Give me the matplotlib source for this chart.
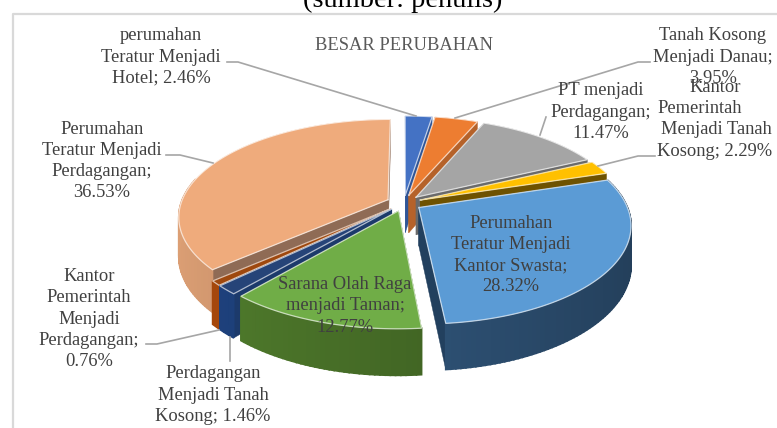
import numpy as np
import matplotlib
matplotlib.use("Agg")
import matplotlib.pyplot as plt
from matplotlib.colors import to_rgb

plt.rcParams['font.family'] = ['Liberation Serif', 'DejaVu Serif']

# order: clockwise from 12 o'clock
categories = [
    "perumahan\nTeratur Menjadi\nHotel",
    "Tanah Kosong\nMenjadi Danau",
    "PT menjadi\nPerdagangan",
    "Kantor\nPemerintah\nMenjadi Tanah\nKosong",
    "Perumahan\nTeratur Menjadi\nKantor Swasta",
    "Sarana Olah Raga\nmenjadi Taman",
    "Perdagangan\nMenjadi Tanah\nKosong",
    "Kantor\nPemerintah\nMenjadi\nPerdagangan",
    "Perumahan\nTeratur Menjadi\nPerdagangan",
]
values = [2.46, 3.95, 11.47, 2.29, 28.32, 12.77, 1.46, 0.76, 36.53]

top_colors = ['#4472C4', '#ED7D31', '#A5A5A5', '#FFC000', '#5B9BD5',
              '#70AD47', '#264478', '#9E480E', '#EFAB7C']
wall_colors = ['#2A4A80', '#8F4A1C', '#5C5C5C', '#6E5200', '#284766',
               '#3A5A20', '#16305C', '#7A3508', '#9B7052']
cut_colors = ['#2F5597', '#B5622A', '#6A6A6A', '#6E5200', '#22405E',
              '#3A5A20', '#1C3A6B', '#A34E12', '#8F6B55']

# draw order, back to front
draw_order = [8, 0, 1, 2, 3, 7, 6, 4, 5]

# pie geometry in pixels
CX, CY = 404, 203
SX, SY = 207, 95
PERSP = 0.17
EXPLODE = 0.085
DEPTH = 38
GRAY = '#A6A6A6'
TEXT = '#404040'
LABEL_SIZE = 13.3


def project(px, py, z=0.0):
    w = 1 + PERSP * py
    return CX + SX * px / w, CY - (SY * py - z * DEPTH) / w


def shade(color, f):
    return tuple(min(c * f, 1) for c in to_rgb(color))


def draw_slice(ax, start, end, i, zbase):
    mid = (start + end) / 2
    ox, oy = EXPLODE * np.sin(mid), EXPLODE * np.cos(mid)
    n = max(int((end - start) / 0.02), 2)
    th = np.linspace(start, end, n)
    rx, ry = ox + np.sin(th), oy + np.cos(th)

    # straight cut faces first
    for t in (start, end):
        qx, qy = ox + np.sin(t), oy + np.cos(t)
        pts = [project(ox, oy), project(qx, qy), project(qx, qy, 1), project(ox, oy, 1)]
        ax.fill(*zip(*pts), color=cut_colors[i], lw=0.3, zorder=zbase)

    # outer wall, split up so it can darken across the slice
    for j in range(n - 1):
        if ry[j] > 0.25 and ry[j + 1] > 0.25:
            continue
        pts = [project(rx[j], ry[j]), project(rx[j + 1], ry[j + 1]),
               project(rx[j + 1], ry[j + 1], 1), project(rx[j], ry[j], 1)]
        f = 1.15 - 0.25 * (rx[j] + rx[j + 1]) / 2
        c = shade(wall_colors[i], f)
        ax.fill(*zip(*pts), color=c, lw=1.2, zorder=zbase + 0.1)

    # top face
    tx, ty = project(np.r_[ox, rx], np.r_[oy, ry])
    ax.fill(tx, ty, facecolor=top_colors[i], edgecolor=top_colors[i],
            lw=0.3, zorder=zbase + 0.2)
    ax.plot(np.r_[tx, tx[0]], np.r_[ty, ty[0]], color='white', alpha=0.65, lw=0.9,
            zorder=zbase + 0.3, solid_joinstyle='miter')


def main():
    fig = plt.figure(figsize=(7.77, 4.28), dpi=100)
    ax = fig.add_axes([0, 0, 1, 1])
    ax.set_xlim(0, 777)
    ax.set_ylim(428, 0)
    ax.axis('off')

    # chart frame, top and left are what shows in the crop
    ax.plot([777, 12.5, 12.5], [13.5, 13.5, 428], color='#D9D9D9', lw=1.6, zorder=1)

    ax.text(403, 7, "(sumber: penulis)", color='black', fontsize=20.5,
            ha='center', va='baseline', zorder=20)
    ax.text(404, 45, "BESAR PERUBAHAN", color='#595959', fontsize=13.3,
            ha='center', va='center', zorder=20)

    edges = np.cumsum([0] + values) / sum(values) * 2 * np.pi
    for k, i in enumerate(draw_order):
        draw_slice(ax, edges[i], edges[i + 1], i, 2 + k)

    # leader lines
    leaders = [
        ([227, 238, 416], [62, 62, 116]),
        ([166, 180, 213], [155, 155, 163]),
        ([650, 638, 455], [62, 62, 118]),
        ([546, 540], [117, 135]),
        ([655, 638, 598], [156, 156, 166]),
        ([146, 157, 219], [344, 344, 330]),
        ([230, 230], [361, 337]),
    ]
    for xs, ys in leaders:
        ax.plot(xs, ys, color=GRAY, lw=1.2, zorder=15)

    # data labels
    labels = [(0, 161, 57, "; "), (1, 713, 57, ";\n"), (2, 601, 112, ";\n"),
              (4, 511, 255, ";\n"), (5, 345, 306, ";\n"), (6, 213, 395, "; "),
              (7, 89, 319, ";\n"), (8, 102, 161, ";\n")]
    for i, x, y, sep in labels:
        txt = f"{categories[i]}{sep}{values[i]:.2f}%"
        ax.text(x, y, txt, color=TEXT, fontsize=LABEL_SIZE, ha='center', va='center',
                linespacing=1.32, zorder=20)

    # this one has an off-centre line in the reference
    lines = categories[3].split("\n")
    lines[-1] = f"{lines[-1]}; {values[3]:.2f}%"
    for line, x, y in zip(lines, [715, 700, 716, 715], [87, 108, 130, 151]):
        ax.text(x, y, line, color=TEXT, fontsize=LABEL_SIZE, ha='center', va='center', zorder=20)

    fig.savefig('out.png', dpi=100)


if __name__ == "__main__":
    main()
